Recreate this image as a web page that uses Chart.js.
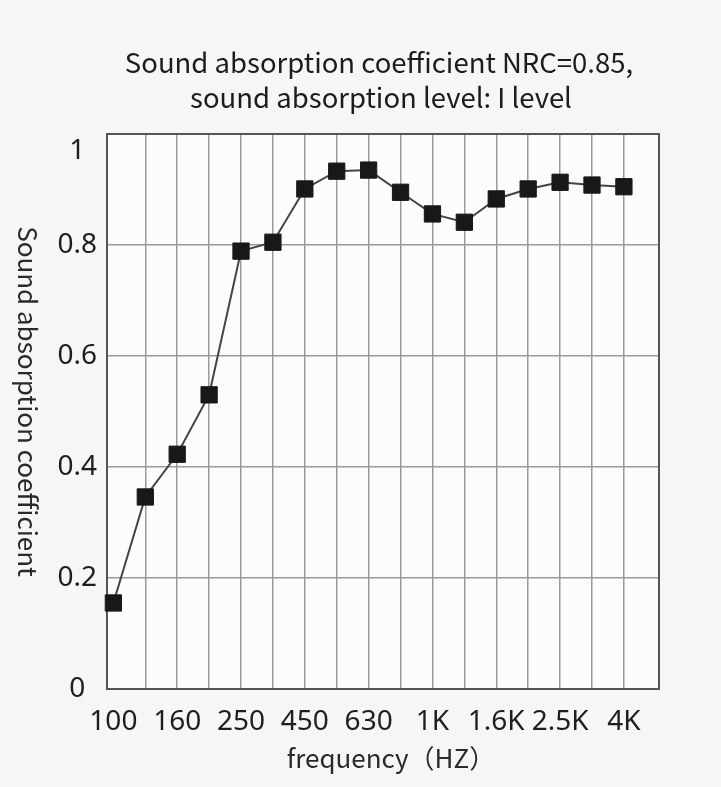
<!DOCTYPE html>
<html>
<head>
<meta charset="utf-8">
<script src="https://cdn.jsdelivr.net/npm/chart.js@4.4.1/dist/chart.umd.min.js"></script>
<style>
  html, body { margin: 0; padding: 0; background: #f6f6f6; }
  #wrap { width: 721px; height: 787px; }
</style>
</head>
<body>
<div id="wrap"><canvas id="nrc-chart"></canvas></div>
<script>
const freqs = ['100','125','160','200','250','315','400','500','630','800','1K','1.25K','1.6K','2K','2.5K','3.15K','4K'];
const tickLabels = ['100','','160','','250','','450','','630','','1K','','1.6K','','2.5K','','4K'];
const coefficients = [0.155, 0.346, 0.423, 0.530, 0.789, 0.805, 0.901, 0.933, 0.935, 0.895, 0.856, 0.841, 0.883, 0.901, 0.913, 0.908, 0.905];
const yTicks = [0, 0.2, 0.4, 0.6, 0.8, 1];

const titleLines = ['Sound absorption coefficient NRC=0.85,', 'sound absorption level: I level'];
const yTitle = 'Sound absorption coefficient';
const xTitle = 'frequency（HZ）';

const cjk = '"Noto Sans CJK SC", "Noto Sans", sans-serif';
const tickFont = { family: '"Noto Sans", sans-serif', size: 28 };

// plot background, frame, titles (y title reads top to bottom)
const decor = {
  id: 'decor',
  beforeDraw(chart) {
    const {ctx, chartArea: a} = chart;
    ctx.save();
    ctx.fillStyle = '#fcfcfc';
    ctx.fillRect(a.left, a.top, a.right - a.left, a.bottom - a.top);
    ctx.restore();
  },
  beforeDatasetsDraw(chart) {
    const {ctx, chartArea: a} = chart;
    ctx.save();
    ctx.strokeStyle = '#555';
    ctx.lineWidth = 2;
    ctx.strokeRect(a.left, a.top, a.right - a.left, a.bottom - a.top);
    ctx.restore();
  },
  afterDraw(chart) {
    const {ctx, chartArea: a} = chart;
    ctx.save();
    ctx.fillStyle = '#1c1c1c';
    ctx.textAlign = 'center';
    ctx.textBaseline = 'alphabetic';
    ctx.font = '27.5px ' + cjk;
    ctx.fillText(titleLines[0], 379, 73);
    ctx.fillText(titleLines[1], 381, 108);

    ctx.fillStyle = '#2a2a2a';
    ctx.font = '26px ' + cjk;
    ctx.fillText(xTitle, 391, 768);

    ctx.translate(28, (a.top + a.bottom) / 2 - 10);
    ctx.rotate(Math.PI / 2);
    ctx.textBaseline = 'middle';
    ctx.fillText(yTitle, 0, 0);
    ctx.restore();
  }
};

const ctx = document.getElementById('nrc-chart').getContext('2d');
const chart = new Chart(ctx, {
  type: 'line',
  data: {
    datasets: [{
      label: 'NRC',
      data: coefficients.map((v, i) => ({x: i, y: v})),
      borderColor: '#444',
      borderWidth: 2,
      pointStyle: 'rect',
      pointRadius: 11.5,
      pointBackgroundColor: '#181818',
      pointBorderColor: '#181818',
      pointBorderWidth: 1,
      tension: 0,
      clip: false
    }]
  },
  options: {
    responsive: true,
    maintainAspectRatio: false,
    animation: false,
    layout: { padding: { top: 134, right: 62, bottom: 0, left: 0 } },
    plugins: {
      legend: { display: false },
      title: { display: false },
      tooltip: { enabled: false }
    },
    scales: {
      x: {
        type: 'linear',
        min: -0.2,
        max: 17.1,
        afterBuildTicks: (scale) => { scale.ticks = freqs.map((f, i) => ({value: i})); },
        afterFit: (scale) => { scale.height = 98; },
        grid: {
          drawTicks: false,
          lineWidth: 1.5,
          color: (c) => (c.tick && c.tick.value === 0) ? 'rgba(0,0,0,0)' : '#9a9a9a'
        },
        border: { display: false },
        ticks: {
          autoSkip: false,
          maxRotation: 0,
          padding: 16,
          color: '#1e1e1e',
          font: tickFont,
          callback: (v) => tickLabels[v] || ''
        }
      },
      y: {
        min: 0,
        max: 1,
        afterBuildTicks: (scale) => { scale.ticks = yTicks.map(v => ({value: v})); },
        afterFit: (scale) => { scale.width = 107; },
        grid: { drawTicks: false, lineWidth: 1.5, color: '#9a9a9a' },
        border: { display: false },
        ticks: {
          crossAlign: 'center',
          padding: 10,
          color: '#1e1e1e',
          font: tickFont,
          // top label sits a bit below its line in the original
          callback: (v) => v === 1 ? ['', '1'] : String(v)
        }
      }
    }
  },
  plugins: [decor]
});
</script>
</body>
</html>
